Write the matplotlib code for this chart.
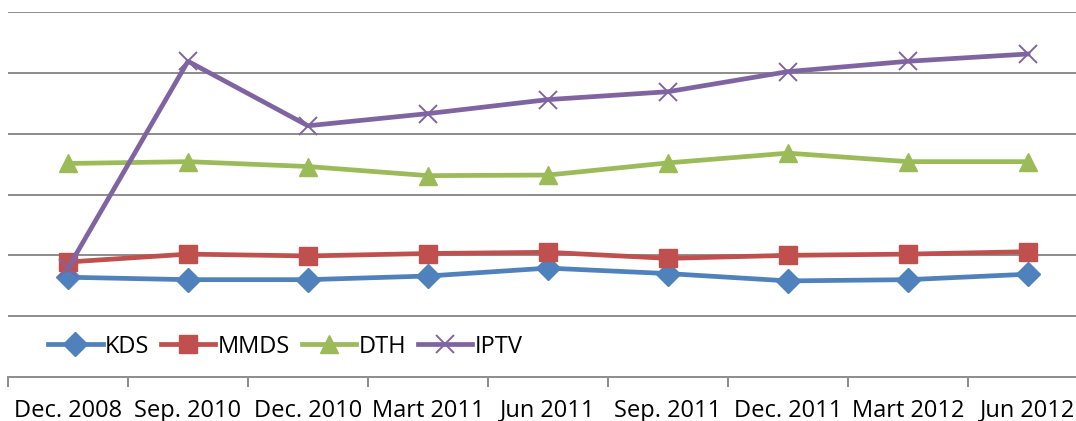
import matplotlib
matplotlib.use("Agg")
import matplotlib.pyplot as plt

# ── Data ────────────────────────────────────────────────────────────────────
periods = ["Dec. 2008", "Sep. 2010", "Dec. 2010", "Mart 2011", "Jun 2011",
           "Sep. 2011", "Dec. 2011", "Mart 2012", "Jun 2012"]

kds  = [1.64, 1.60, 1.60, 1.66, 1.79, 1.70, 1.58, 1.60, 1.69]
mmds = [1.89, 2.02, 1.99, 2.03, 2.05, 1.95, 2.00, 2.02, 2.06]
dth  = [3.51, 3.54, 3.46, 3.31, 3.32, 3.52, 3.68, 3.54, 3.54]
iptv = [1.79, 5.19, 4.13, 4.33, 4.56, 4.69, 5.02, 5.19, 5.31]

series = [
    ("KDS",  kds,  "#4F81BD", "D", 12),
    ("MMDS", mmds, "#C0504D", "s", 13),
    ("DTH",  dth,  "#9BBB59", "^", 13),
    ("IPTV", iptv, "#8064A2", "x", 13),
]

plt.rcParams["font.family"] = ["Open Sans", "DejaVu Sans"]

W, H = 1076, 421
fig = plt.figure(figsize=(W / 100, H / 100), dpi=100)
fig.patch.set_facecolor("white")
# axes runs a bit past the right edge, like the cropped original
ax = fig.add_axes([8 / W, (H - 377) / H, 1080 / W, 365 / H])

x = list(range(len(periods)))
for name, vals, color, marker, ms in series:
    if marker == "x":
        ax.plot(x, vals, color=color, lw=3.4, marker=marker, ms=ms,
                mew=1.4, label=name, zorder=3)
    else:
        ax.plot(x, vals, color=color, lw=3.4, marker=marker, ms=ms,
                mec=color, label=name, zorder=3)

ax.set_xlim(-0.5, len(periods) - 0.5)
ax.set_ylim(0, 6)
ax.set_yticks([1, 2, 3, 4, 5, 6])
ax.yaxis.grid(True, color="#8c8c8c", lw=1.4)
ax.tick_params(axis="y", left=False, labelleft=False)

# category boundaries as tick marks, labels at the centres
ax.set_xticks([i - 0.5 for i in range(len(periods) + 1)])
ax.set_xticklabels([])
ax.set_xticks(x, minor=True)
ax.set_xticklabels(periods, minor=True, fontsize=17)
ax.tick_params(axis="x", which="major", direction="out", length=7,
               width=1.4, color="#8c8c8c")
ax.tick_params(axis="x", which="minor", length=0, pad=15.5)

for s in ["top", "right", "left"]:
    ax.spines[s].set_visible(False)
ax.spines["bottom"].set_color("#8c8c8c")
ax.spines["bottom"].set_linewidth(1.4)

ax.legend(loc="center left", bbox_to_anchor=(0.0285, 0.083), ncol=4,
          frameon=False, fontsize=17, handlelength=2.3, handletextpad=0.1,
          columnspacing=0.5, borderaxespad=0)

fig.savefig("out.png", dpi=100)
plt.close()
